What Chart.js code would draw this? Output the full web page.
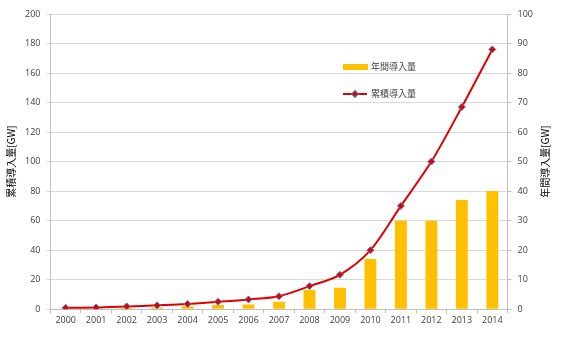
<!DOCTYPE html>
<html>
<head>
<meta charset="utf-8">
<script src="https://cdn.jsdelivr.net/npm/chart.js@4/dist/chart.umd.min.js"></script>
<style>
  html, body { margin: 0; padding: 0; background: #fff; }
  #wrap { width: 570px; height: 339px; position: relative; }
</style>
</head>
<body>
<div id="wrap"><canvas id="pvChart"></canvas></div>
<script>
const years = ['2000','2001','2002','2003','2004','2005','2006','2007','2008','2009','2010','2011','2012','2013','2014'];
const annualGW = [0.2, 0.3, 0.4, 0.6, 1.0, 1.4, 1.6, 2.5, 6.5, 7.3, 17, 30, 30, 37, 40];
const cumulativeGW = [0.9, 1.2, 1.9, 2.6, 3.6, 5.0, 6.6, 8.8, 15.6, 23.3, 40, 70, 100, 137, 176];
const leftTicks = { min: 0, max: 200, step: 20 };
const rightTicks = { min: 0, max: 100, step: 10 };
const rightTitle = '年間導入量[GW]';

const tickFont = { family: '"Open Sans", "Noto Sans CJK JP", sans-serif', size: 9 };
const titleFont = { family: '"Noto Sans CJK JP", sans-serif', size: 10 };

// legend drawn inside the plot like the original
const innerLegend = {
    id: 'innerLegend',
    afterDraw(chart) {
        const ctx = chart.ctx;
        const bar = chart.data.datasets[0];
        const line = chart.data.datasets[1];
        ctx.save();
        ctx.font = '9px "Noto Sans CJK JP", sans-serif';
        ctx.textBaseline = 'middle';

        ctx.fillStyle = bar.backgroundColor;
        ctx.fillRect(343, 64, 25, 6);
        ctx.fillStyle = '#404040';
        ctx.fillText(bar.label, 371, 67);

        ctx.strokeStyle = line.borderColor;
        ctx.lineWidth = 2;
        ctx.beginPath();
        ctx.moveTo(343, 94);
        ctx.lineTo(367, 94);
        ctx.stroke();
        ctx.translate(355, 94);
        ctx.rotate(Math.PI / 4);
        ctx.fillStyle = line.pointBackgroundColor;
        ctx.strokeStyle = line.pointBorderColor;
        ctx.lineWidth = 1;
        ctx.fillRect(-2.5, -2.5, 5, 5);
        ctx.strokeRect(-2.5, -2.5, 5, 5);
        ctx.setTransform(1, 0, 0, 1, 0, 0);
        ctx.fillStyle = '#404040';
        ctx.fillText(line.label, 371, 94);

        // right axis title, reading bottom to top
        const area = chart.chartArea;
        ctx.translate(545, (area.top + area.bottom) / 2);
        ctx.rotate(-Math.PI / 2);
        ctx.font = '10px "Noto Sans CJK JP", sans-serif';
        ctx.fillStyle = '#000';
        ctx.textAlign = 'center';
        ctx.fillText(rightTitle, 0, 0);
        ctx.restore();
    }
};

const ctx = document.getElementById('pvChart').getContext('2d');
new Chart(ctx, {
    data: {
        labels: years,
        datasets: [
            {
                type: 'bar',
                label: '年間導入量',
                data: annualGW,
                yAxisID: 'yRight',
                backgroundColor: '#FFC000',
                barPercentage: 0.39,
                categoryPercentage: 1,
                order: 2
            },
            {
                type: 'line',
                label: '累積導入量',
                data: cumulativeGW,
                yAxisID: 'yLeft',
                borderColor: '#E00000',
                borderWidth: 2,
                tension: 0.3,
                pointStyle: 'rectRot',
                pointRadius: 3.5,
                pointBackgroundColor: '#E00000',
                pointBorderColor: '#4F81BD',
                pointBorderWidth: 1,
                order: 1
            }
        ]
    },
    options: {
        responsive: true,
        maintainAspectRatio: false,
        animation: false,
        layout: { padding: { top: 14, left: 3, right: 31, bottom: 11 } },
        plugins: {
            legend: { display: false },
            tooltip: { enabled: false }
        },
        scales: {
            x: {
                offset: true,
                grid: { display: true, drawOnChartArea: false, drawTicks: true, tickLength: 4, offset: true, color: '#BFBFBF' },
                border: { color: '#BFBFBF' },
                ticks: { font: tickFont, color: '#404040', maxRotation: 0, padding: 2 }
            },
            yLeft: {
                position: 'left',
                min: leftTicks.min,
                max: leftTicks.max,
                ticks: { stepSize: leftTicks.step, font: tickFont, color: '#404040', padding: 6 },
                grid: { color: '#D9D9D9', drawTicks: true, tickLength: 4 },
                border: { color: '#BFBFBF' },
                title: { display: true, text: '累積導入量[GW]', font: titleFont, color: '#000', padding: 2 }
            },
            yRight: {
                position: 'right',
                min: rightTicks.min,
                max: rightTicks.max,
                ticks: { stepSize: rightTicks.step, font: tickFont, color: '#404040', padding: 6 },
                grid: { drawOnChartArea: false, drawTicks: true, tickLength: 4, color: '#BFBFBF' },
                border: { color: '#BFBFBF' }
            }
        }
    },
    plugins: [innerLegend]
});
</script>
</body>
</html>
